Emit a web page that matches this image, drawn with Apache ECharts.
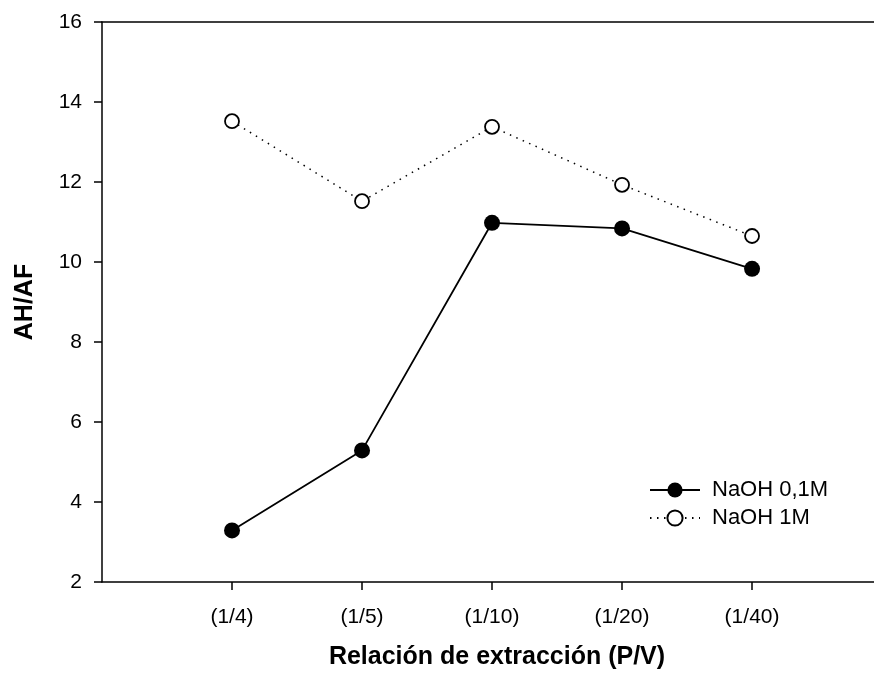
<!DOCTYPE html>
<html>
<head>
<meta charset="utf-8">
<script src="https://cdn.jsdelivr.net/npm/echarts@6/dist/echarts.min.js"></script>
<style>html,body{margin:0;padding:0;background:#fff;}#c{width:874px;height:675px;}</style>
</head>
<body>
<div id="c"></div>
<script>
var categories = ['(1/4)', '(1/5)', '(1/10)', '(1/20)', '(1/40)'];
var naoh01 = [3.29, 5.29, 10.98, 10.84, 9.83];
var naoh1 = [13.52, 11.52, 13.38, 11.93, 10.65];
var seriesNames = ['NaOH 0,1M', 'NaOH 1M'];
var yTicks = [2, 4, 6, 8, 10, 12, 14, 16];

var font = '"Liberation Sans", Arial, sans-serif';
function pts(arr) { return arr.map(function (v, i) { return [i + 1, v]; }); }
var catPos = categories.map(function (c, i) { return i + 1; });

var chart = echarts.init(document.getElementById('c'));
chart.setOption({
  backgroundColor: '#fff',
  animation: false,
  grid: { left: 102, top: 22, bottom: 93, right: 0 },
  legend: {
    orient: 'vertical', left: 649, top: 479, padding: 0,
    itemWidth: 50, itemHeight: 19, itemGap: 6,
    textStyle: { fontFamily: font, fontSize: 22, color: '#000', padding: [0, 0, 0, 7] },
    data: seriesNames
  },
  xAxis: [{
    type: 'value', min: 0, max: 5.938,
    splitLine: { show: false },
    axisLine: { lineStyle: { color: '#000', width: 1.5 } },
    axisTick: { length: 8, lineStyle: { color: '#000', width: 1.5 }, customValues: catPos },
    axisLabel: {
      customValues: catPos, margin: 25, fontFamily: font, fontSize: 21, color: '#000',
      formatter: function (v) { return categories[Math.round(v) - 1] || ''; }
    },
    name: 'Relación de extracción (P/V)', nameLocation: 'middle', nameGap: 63,
    nameTextStyle: { fontFamily: font, fontSize: 25, fontWeight: 'bold', color: '#000', padding: [0, 0, 0, 18] }
  }, {
    type: 'value', position: 'top', min: 0, max: 5.938,
    splitLine: { show: false },
    axisLine: { show: true, lineStyle: { color: '#000', width: 1.5 } },
    axisTick: { show: false }, axisLabel: { show: false }
  }],
  yAxis: {
    type: 'value', min: 2, max: 16, interval: 2,
    splitLine: { show: false },
    axisLine: { lineStyle: { color: '#000', width: 1.5 } },
    axisTick: { length: 8, lineStyle: { color: '#000', width: 1.5 } },
    axisLabel: { margin: 20, fontFamily: font, fontSize: 21, color: '#000',
      formatter: function (v) { return yTicks.indexOf(v) >= 0 ? String(v) : ''; } },
    name: 'AH/AF', nameLocation: 'middle', nameGap: 64,
    nameTextStyle: { fontFamily: font, fontSize: 25, fontWeight: 'bold', color: '#000' }
  },
  series: [
    {
      name: seriesNames[0], type: 'line', data: pts(naoh01),
      symbol: 'circle', symbolSize: 16,
      itemStyle: { color: '#000', borderColor: '#000', borderWidth: 0 },
      lineStyle: { color: '#000', width: 1.8, type: 'solid' }
    },
    {
      name: seriesNames[1], type: 'line', data: pts(naoh1),
      symbol: 'circle', symbolSize: 14,
      itemStyle: { color: '#fff', borderColor: '#000', borderWidth: 1.8 },
      lineStyle: { color: '#000', width: 1.5, type: [1.5, 5.5] }
    }
  ]
});
</script>
</body>
</html>
